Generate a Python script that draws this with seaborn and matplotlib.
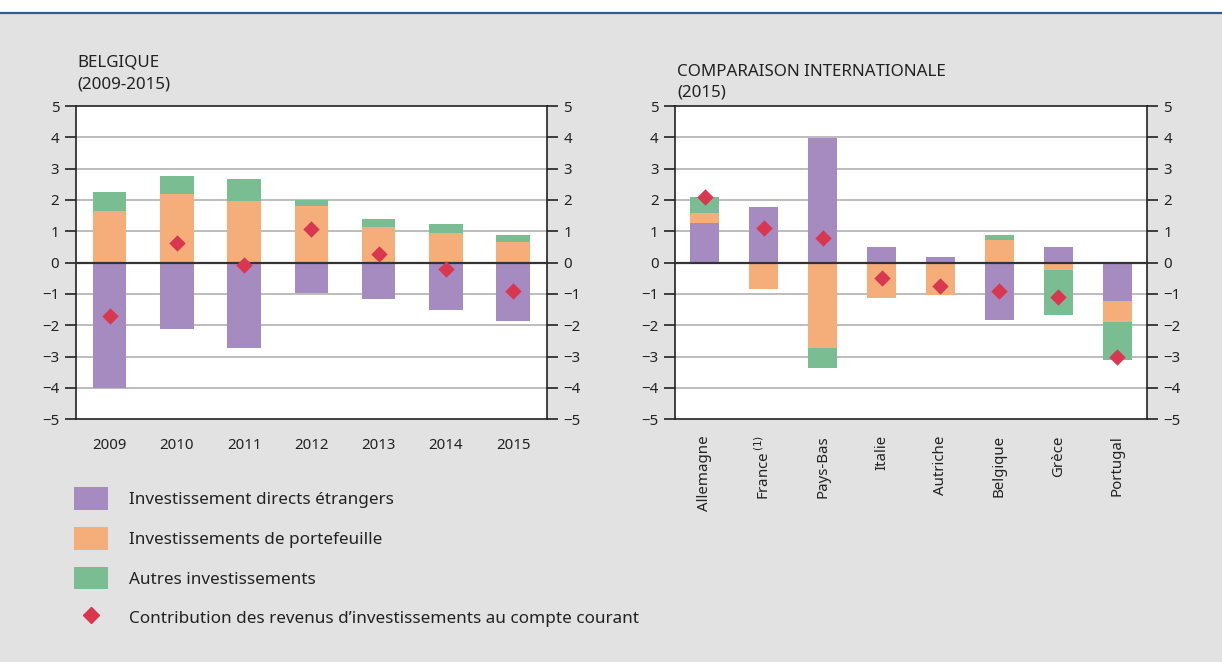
import matplotlib
matplotlib.use("Agg")
import matplotlib.pyplot as plt
from matplotlib.patches import Patch, Rectangle
from matplotlib.lines import Line2D
import seaborn as sns
import numpy as np

# Left panel: Belgique 2009-2015
years = ["2009", "2010", "2011", "2012", "2013", "2014", "2015"]
be_ide = [-3.99, -2.11, -2.74, -0.96, -1.16, -1.51, -1.85]
be_portf = [1.65, 2.19, 1.97, 1.81, 1.14, 0.95, 0.66]
be_autres = [0.61, 0.58, 0.70, 0.19, 0.25, 0.28, 0.22]
be_revenus = [-1.71, 0.64, -0.09, 1.06, 0.27, -0.21, -0.91]

# Right panel: comparaison internationale 2015
countries = ["Allemagne", "France$^{\\,(1)}$", "Pays-Bas", "Italie", "Autriche",
             "Belgique", "Grèce", "Portugal"]
int_ide = [1.27, 1.78, 3.98, 0.50, 0.18, -1.82, 0.50, -1.22]
int_portf = [0.32, -0.84, -2.72, -1.12, -1.02, 0.72, -0.23, -0.67]
int_autres = [0.51, 0.0, -0.63, 0.0, 0.0, 0.16, -1.44, -1.21]
int_revenus = [2.09, 1.11, 0.78, -0.50, -0.73, -0.91, -1.11, -3.01]

labels = ["Investissement directs étrangers", "Investissements de portefeuille",
          "Autres investissements",
          "Contribution des revenus d\u2019investissements au compte courant"]

PURPLE = "#a68bc1"
ORANGE = "#f5ad7a"
GREEN = "#7bbd93"
RED = "#d9374f"
BG = "#e2e2e2"
TXT = "#222222"

sns.set_style("white")
plt.rcParams["font.family"] = ["Noto Sans", "DejaVu Sans"]
plt.rcParams["axes.unicode_minus"] = True

fig = plt.figure(figsize=(12.22, 6.62), dpi=100, facecolor=BG)
# white strip + blue rule at the top
fig.patches.append(Rectangle((0, 1 - 12 / 662), 1, 12 / 662, transform=fig.transFigure,
                             facecolor="white", edgecolor="none", zorder=0))
fig.add_artist(Line2D([0, 1], [1 - 13 / 662] * 2, transform=fig.transFigure,
                      color="#2b5f97", lw=1.6))

ax1 = fig.add_axes([76 / 1222, 1 - 419.3 / 662, 470.7 / 1222, 313.3 / 662])
ax2 = fig.add_axes([675.3 / 1222, 1 - 419.3 / 662, 471.4 / 1222, 313.3 / 662])


def stacked(ax, cats, series, colors):
    pos = np.zeros(len(cats))
    neg = np.zeros(len(cats))
    for vals, col in zip(series, colors):
        vals = np.array(vals)
        bottom = np.where(vals >= 0, pos, neg)
        sns.barplot(x=cats, y=vals, bottom=bottom, color=col, width=0.5,
                    saturation=1, ax=ax, zorder=3, linewidth=0)
        pos = pos + np.clip(vals, 0, None)
        neg = neg + np.clip(vals, None, 0)


def style(ax, n):
    ax.set_facecolor("white")
    ax.set_ylim(-5, 5)
    ax.set_xlim(-0.5, n - 0.5)
    ax.set_yticks(range(-5, 6))
    for v in range(-4, 5):
        if v == 0:
            ax.axhline(0, color="#333333", lw=1.6, zorder=4)
        else:
            ax.axhline(v, color="#bdbdbd", lw=1.4, zorder=1)
    for s in ax.spines.values():
        s.set_visible(True)
        s.set_color("#222222")
        s.set_linewidth(1.2)
    ax.tick_params(axis="y", left=True, right=True, labelleft=True, labelright=True,
                   direction="out", length=8, width=1.2, color="#222222",
                   labelsize=10.8, labelcolor=TXT, pad=4)
    ax.tick_params(axis="x", bottom=False, labelsize=10.8, labelcolor=TXT, pad=10)
    ax.set_xlabel("")
    ax.set_ylabel("")


stacked(ax1, years, [be_ide, be_portf, be_autres], [PURPLE, ORANGE, GREEN])
sns.scatterplot(x=years, y=be_revenus, marker="D", s=70, color=RED, linewidth=0,
                ax=ax1, zorder=5)
style(ax1, len(years))

stacked(ax2, countries, [int_ide, int_portf, int_autres], [PURPLE, ORANGE, GREEN])
sns.scatterplot(x=countries, y=int_revenus, marker="D", s=70, color=RED, linewidth=0,
                ax=ax2, zorder=5)
style(ax2, len(countries))
ax2.tick_params(axis="x", labelrotation=90, pad=8)

fig.text(77 / 1222, 1 - 73.5 / 662, "BELGIQUE\n(2009-2015)", fontsize=12.2, color=TXT,
         va="center", linespacing=1.55)
fig.text(677 / 1222, 1 - 82 / 662, "COMPARAISON INTERNATIONALE\n(2015)", fontsize=12.2,
         color=TXT, va="center", linespacing=1.35)

handles = [Patch(facecolor=PURPLE, edgecolor="none"),
           Patch(facecolor=ORANGE, edgecolor="none"),
           Patch(facecolor=GREEN, edgecolor="none"),
           Line2D([], [], marker="D", color=RED, linestyle="none", markersize=8.5)]
fig.legend(handles, labels, loc="upper left", bbox_to_anchor=(59 / 1222, 1 - 472 / 662),
           frameon=False, fontsize=12.3, handlelength=1.96, handleheight=1.68,
           labelspacing=0.98, handletextpad=1.23, labelcolor=TXT)

fig.savefig("out.png", dpi=100, facecolor=BG)
